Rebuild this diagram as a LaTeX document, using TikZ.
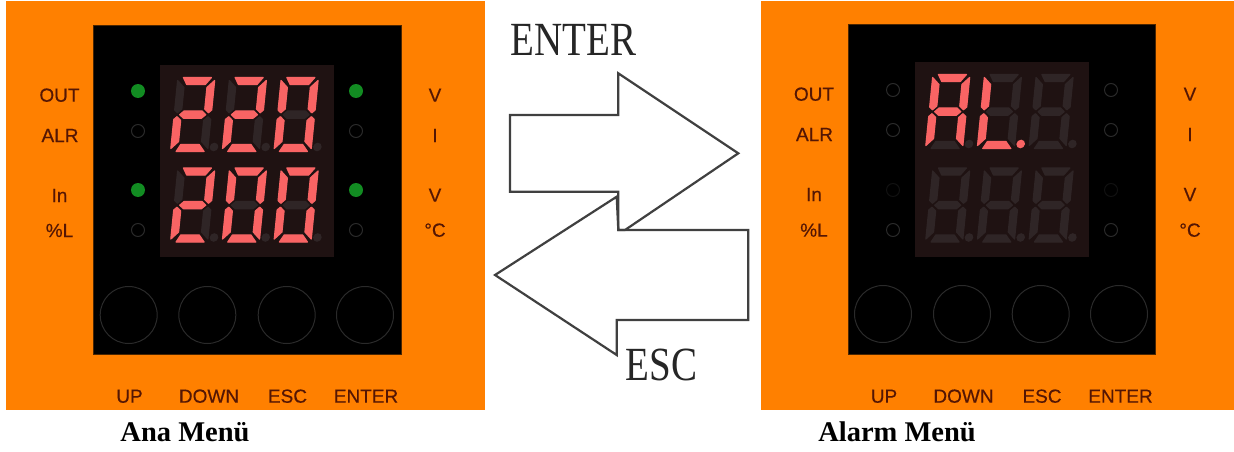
\documentclass[tikz,border=0pt]{standalone}
\usepackage{fontspec}
\usepackage{graphicx}
\setmainfont{Liberation Sans}
\newfontfamily\lblfont[FakeBold=0.35]{Liberation Sans}
\newfontfamily\capserif{Liberation Serif}
\definecolor{panelor}{HTML}{FF8000}
\definecolor{labelbr}{HTML}{541604}
\definecolor{dispbg}{HTML}{1F1212}
\definecolor{segoff}{HTML}{2F2526}
\definecolor{segon}{HTML}{F96464}
\definecolor{ledgreen}{HTML}{128C22}
\definecolor{ledring}{HTML}{2A2A2A}
\definecolor{arrowln}{HTML}{404040}
\tikzset{
  panelbox/.style={fill=panelor,draw=none},
  facebox/.style={fill=black,draw=black!70!panelor,line width=0.6pt},
  dispbox/.style={fill=dispbg,draw=none},
  lbl/.style={text=labelbr,inner sep=0pt,anchor=base,font=\lblfont\fontsize{19}{21}\selectfont},
  menucap/.style={text=black,inner sep=0pt,anchor=base,font=\capserif\bfseries\fontsize{28.5}{31}\selectfont},
  bigcap/.style={text=black!85,inner sep=0pt,anchor=base west,font=\capserif\fontsize{39}{42}\selectfont},
  ledoff/.style={draw=ledring,line width=1pt,fill=none},
  ledon/.style={fill=ledgreen,draw=none},
  btn/.style={draw=ledring,line width=1pt,fill=none},
  bigarrow/.style={draw=arrowln,line width=2.2pt,line join=miter,fill=white},
  segstyle/.style={fill=#1,draw=#1,line width=1.2pt,line join=round},
}
\def\sega#1{\path[segstyle=#1] (6,0.5)--(34,0.5)--(28.5,7.5)--(10,7.5)--cycle;}
\def\segb#1{\path[segstyle=#1] (37.5,3.5)--(37.5,33)--(34.5,35.8)--(30.5,32)--(30.5,10.5)--cycle;}
\def\segc#1{\path[segstyle=#1] (37.5,42.5)--(37.5,71.5)--(30.5,64.5)--(30.5,43.5)--(34.5,39.7)--cycle;}
\def\segd#1{\path[segstyle=#1] (10,67.5)--(28.5,67.5)--(34,74.5)--(6,74.5)--cycle;}
\def\sege#1{\path[segstyle=#1] (0.5,42.5)--(3.5,39.7)--(7.5,43.5)--(7.5,64.5)--(0.5,71.5)--cycle;}
\def\segf#1{\path[segstyle=#1] (0.5,3.5)--(7.5,10.5)--(7.5,32)--(3.5,35.8)--(0.5,33)--cycle;}
\def\segg#1{\path[segstyle=#1] (6,37.7)--(10,34)--(28,34)--(32,37.7)--(28,41.2)--(10,41.2)--cycle;}
\def\segp#1{\fill[#1] (43.5,70) circle (4.3);}
\def\segz#1{}
\newcommand\leddigit[3]{%
  \begin{scope}[shift={(#1,#2)},xslant=0.1]
    \foreach \s in {a,b,c,d,e,f,g,p}{\csname seg\s\endcsname{segoff}}
    \foreach \s in {#3}{\csname seg\s\endcsname{segon}}
  \end{scope}}
\begin{document}
\begin{tikzpicture}[x=1pt,y=-1pt]
\useasboundingbox (0,0) rectangle (1234,452);
\fill[white] (0,0) rectangle (1234,452);
% ---------- left panel
\path[panelbox] (6,1) rectangle (485,410);
\path[facebox] (93,25) rectangle (401,354);
\path[dispbox] (160,65) rectangle (334,257);
\leddigit{177.5}{77}{a,b,g,e,d}
\leddigit{229.2}{77}{a,b,g,e,d}
\leddigit{280.9}{77}{a,b,c,d,e,f}
\leddigit{177.5}{167.5}{a,b,g,e,d}
\leddigit{229.2}{167.5}{a,b,c,d,e,f}
\leddigit{280.9}{167.5}{a,b,c,d,e,f}
\path[ledon] (138,91) circle (7);
\draw[ledoff] (138,131) circle (6.5);
\path[ledon] (138,190) circle (7);
\draw[ledoff] (138,230) circle (6.5);
\path[ledon] (356,91) circle (7);
\draw[ledoff] (356,131) circle (6.5);
\path[ledon] (356,190) circle (7);
\draw[ledoff] (356,230) circle (6.5);
\draw[btn] (128.7,315) circle (28.5);
\draw[btn] (207.3,315) circle (28.5);
\draw[btn] (286.7,315) circle (28.5);
\draw[btn] (365,315) circle (28.5);
\node[lbl] (lout) at (59.5,101.7) {OUT};
\node[lbl] (lalr) at (60,142) {ALR};
\node[lbl] (lin) at (59.5,202) {In};
\node[lbl] (lpl) at (59.5,237) {\%L};
\node[lbl] (lv1) at (435,101.7) {V};
\node[lbl] (li) at (435,142) {I};
\node[lbl] (lv2) at (435,201.7) {V};
\node[lbl] (ldc) at (435,236.7) {°C};
\node[lbl] (lup) at (129.5,402.7) {UP};
\node[lbl] (ldown) at (209,402.7) {DOWN};
\node[lbl] (lesc) at (287.5,402.7) {ESC};
\node[lbl] (lent) at (366,402.7) {ENTER};
\node[menucap] (anamenu) at (185,441.7) {Ana Menü};
% ---------- right panel
\path[panelbox] (761,1) rectangle (1234,410);
\path[facebox] (848,24) rectangle (1155,354);
\path[dispbox] (915,62) rectangle (1089,257);
\leddigit{932.5}{74}{a,b,c,e,f,g}
\leddigit{984.2}{74}{d,e,f,p}
\leddigit{1035.9}{74}{z}
\leddigit{932.5}{167.5}{z}
\leddigit{984.2}{167.5}{z}
\leddigit{1035.9}{167.5}{z}
\draw[ledoff] (893,90) circle (6.5);
\draw[ledoff] (893,130) circle (6.5);
\draw[ledoff,draw=black!60!ledring] (893,190) circle (6.5);
\draw[ledoff] (893,230) circle (6.5);
\draw[ledoff] (1111,90) circle (6.5);
\draw[ledoff] (1111,130) circle (6.5);
\draw[ledoff,draw=black!60!ledring] (1111,190) circle (6.5);
\draw[ledoff] (1111,230) circle (6.5);
\draw[btn] (883,314) circle (28.5);
\draw[btn] (962,314) circle (28.5);
\draw[btn] (1040.7,314) circle (28.5);
\draw[btn] (1119,314) circle (28.5);
\node[lbl] (rout) at (814,100.7) {OUT};
\node[lbl] (ralr) at (814.5,141) {ALR};
\node[lbl] (rin) at (814,201) {In};
\node[lbl] (rpl) at (814,236.7) {\%L};
\node[lbl] (rv1) at (1190,100.7) {V};
\node[lbl] (ri) at (1190,141) {I};
\node[lbl] (rv2) at (1190,201) {V};
\node[lbl] (rdc) at (1190,236.7) {°C};
\node[lbl] (rup) at (884,402.7) {UP};
\node[lbl] (rdown) at (963.5,402.7) {DOWN};
\node[lbl] (resc) at (1042,402.7) {ESC};
\node[lbl] (rent) at (1120.5,402.7) {ENTER};
\node[menucap] (alarmmenu) at (897,441.7) {Alarm Menü};
% ---------- arrows
\draw[bigarrow] (510,115)--(618.3,115)--(618.3,73.3)--(738.3,153.3)--(625,230)--(618.3,230)--(618.3,191.7)--(510,191.7)--cycle;
\draw[bigarrow,fill=none] (748.3,230)--(618.3,230)--(616.7,196.7)--(495,275)--(616.7,355)--(616.7,320)--(748.3,320)--cycle;
\node[bigcap] (enterlbl) at (510.5,56) {\scalebox{1}[1.22]{ENTER}};
\node[bigcap] (esclbl) at (625.5,380) {\scalebox{1}[1.22]{ESC}};
\end{tikzpicture}
\end{document}
